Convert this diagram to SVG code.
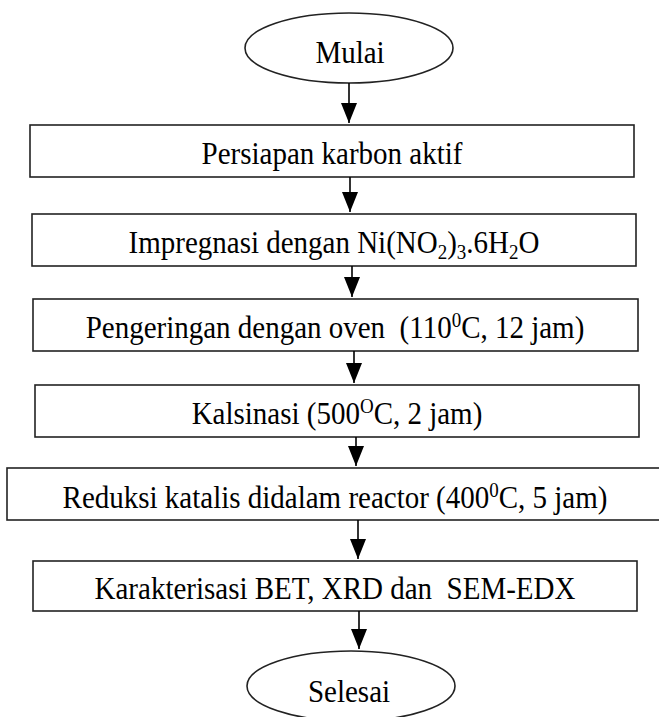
<svg xmlns="http://www.w3.org/2000/svg" width="659" height="717" viewBox="0 0 659 717">
<style>
.box{fill:#fff;stroke:#222;stroke-width:1.6}
.lbl{font-family:"Liberation Serif","Times New Roman",serif;font-size:29px;fill:#000;text-anchor:middle;white-space:pre}
.sup{font-size:19px}
.sub{font-size:19px}
.conn line{stroke:#000;stroke-width:1.6}
</style>
<defs>
<marker id="ah" viewBox="0 0 20 16" refX="20" refY="8" markerWidth="20" markerHeight="16" markerUnits="userSpaceOnUse" orient="auto">
<path d="M0,0 L20,8 L0,16 Z" fill="#000"/>
</marker>
</defs>
<rect width="659" height="717" fill="#fff"/>
<g id="mulai"><ellipse class="box" cx="349" cy="48" rx="104" ry="35"/><text class="lbl" transform="translate(350,63) scale(1,1.1)">Mulai</text></g>
<g id="persiapan"><rect class="box" x="30" y="125" width="604" height="52"/><text class="lbl" transform="translate(332,164) scale(1,1.1)">Persiapan karbon aktif</text></g>
<g id="impregnasi"><rect class="box" x="32" y="214" width="604" height="52"/><text class="lbl" transform="translate(334,253) scale(1,1.1)">Impregnasi dengan Ni(NO<tspan class="sub" dy="5">2</tspan><tspan dy="-5">)</tspan><tspan class="sub" dy="5">3</tspan><tspan dy="-5">.6H</tspan><tspan class="sub" dy="5">2</tspan><tspan dy="-5">O</tspan></text></g>
<g id="pengeringan"><rect class="box" x="33" y="299" width="605" height="52"/><text class="lbl" transform="translate(335,338) scale(1,1.1)">Pengeringan dengan oven  (110<tspan class="sup" dy="-10">0</tspan><tspan dy="10">C, 12 jam)</tspan></text></g>
<g id="kalsinasi"><rect class="box" x="35" y="385" width="604" height="52"/><text class="lbl" transform="translate(337,424) scale(1,1.1)">Kalsinasi (500<tspan class="sup" dy="-10">O</tspan><tspan dy="10">C, 2 jam)</tspan></text></g>
<g id="reduksi"><rect class="box" x="7" y="468" width="660" height="52"/><text class="lbl" transform="translate(335,508) scale(1,1.1)">Reduksi katalis didalam reactor (400<tspan class="sup" dy="-10">0</tspan><tspan dy="10">C, 5 jam)</tspan></text></g>
<g id="karakterisasi"><rect class="box" x="33" y="561" width="604" height="50"/><text class="lbl" transform="translate(335,599) scale(1,1.1)">Karakterisasi BET, XRD dan  SEM-EDX</text></g>
<g id="selesai"><ellipse class="box" cx="351" cy="686" rx="104" ry="35"/><text class="lbl" transform="translate(349,702) scale(1,1.1)">Selesai</text></g>
<g class="conn" id="connectors">
<line x1="349" y1="83" x2="349" y2="123" marker-end="url(#ah)"/>
<line x1="350" y1="177" x2="350" y2="212" marker-end="url(#ah)"/>
<line x1="352" y1="266" x2="352" y2="297" marker-end="url(#ah)"/>
<line x1="354" y1="351" x2="354" y2="383" marker-end="url(#ah)"/>
<line x1="356" y1="437" x2="356" y2="466" marker-end="url(#ah)"/>
<line x1="358" y1="520" x2="358" y2="559" marker-end="url(#ah)"/>
<line x1="359" y1="611" x2="359" y2="649" marker-end="url(#ah)"/>
</g>
</svg>
